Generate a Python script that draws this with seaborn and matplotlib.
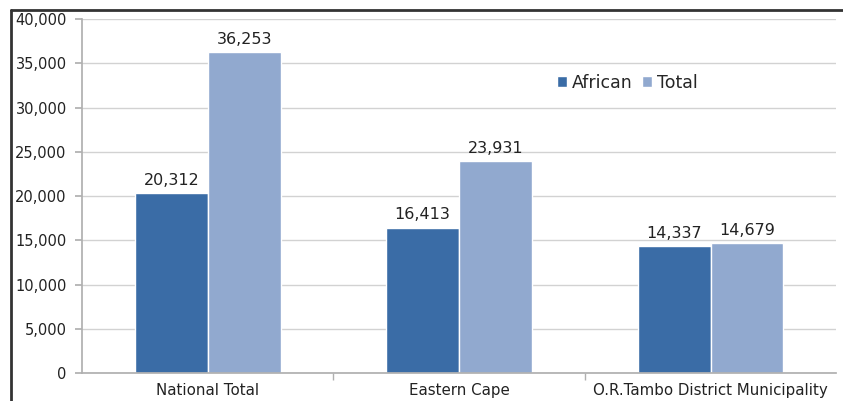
import matplotlib

matplotlib.use("Agg")

import matplotlib.pyplot as plt
import pandas as pd
import seaborn as sns
from matplotlib.lines import Line2D
from matplotlib.ticker import FuncFormatter, FixedLocator

regions = ["National Total", "Eastern Cape", "O.R.Tambo District Municipality"]
african = [20312, 16413, 14337]
total = [36253, 23931, 14679]
series = ["African", "Total"]
palette = ["#3a6ca6", "#91a9cf"]

df = pd.DataFrame({
    "region": regions * 2,
    "series": ["African"] * 3 + ["Total"] * 3,
    "value": african + total,
})

sns.set_theme(style="white")
plt.rcParams["font.family"] = ["DejaVu Sans"]

fig = plt.figure(figsize=(8.43, 4.01), dpi=100)
ax = fig.add_axes([0.0973, 0.0698, 0.8947, 0.8828])

sns.barplot(data=df, x="region", y="value", hue="series", hue_order=series,
            palette=palette, width=0.58, ax=ax, saturation=1,
            edgecolor="white", linewidth=1.0, legend=True)

ax.set_ylim(0, 40000)
ax.set_xlim(-0.5, 2.5)
ax.set_yticks(range(0, 40001, 5000))
ax.yaxis.set_major_formatter(FuncFormatter(lambda v, p: f"{int(v):,}"))
ax.grid(axis="y", color="#d2d2d2", linewidth=1.0)
ax.set_axisbelow(True)
ax.set_xlabel("")
ax.set_ylabel("")

for side in ["top", "right"]:
    ax.spines[side].set_visible(False)
ax.spines["left"].set_color("#b0b0b0")
ax.spines["bottom"].set_color("#b0b0b0")

ax.tick_params(axis="y", left=True, length=5, color="#b0b0b0", labelsize=10.5,
               labelcolor="#222222", pad=6)
ax.tick_params(axis="x", bottom=False, labelsize=10.8, labelcolor="#222222", pad=1.5)
ax.xaxis.set_minor_locator(FixedLocator([0.5, 1.5]))
ax.tick_params(axis="x", which="minor", bottom=True, length=5, color="#b0b0b0")

for container in ax.containers:
    ax.bar_label(container, labels=[f"{v:,.0f}" for v in container.datavalues],
                 padding=4, fontsize=11.5, color="#222222")

ax.legend(loc="upper left", bbox_to_anchor=(0.62, 0.865), frameon=False,
          fontsize=12.5, handlelength=0.6, handleheight=0.6, handletextpad=0.3,
          columnspacing=0.5, ncol=2, borderaxespad=0)

fig.add_artist(Line2D([11 / 843, 11 / 843], [0, 1 - 10 / 401], color="#333333", linewidth=2))
fig.add_artist(Line2D([11 / 843, 1], [1 - 10 / 401, 1 - 10 / 401], color="#333333", linewidth=2))

fig.savefig("out.png", dpi=100)
